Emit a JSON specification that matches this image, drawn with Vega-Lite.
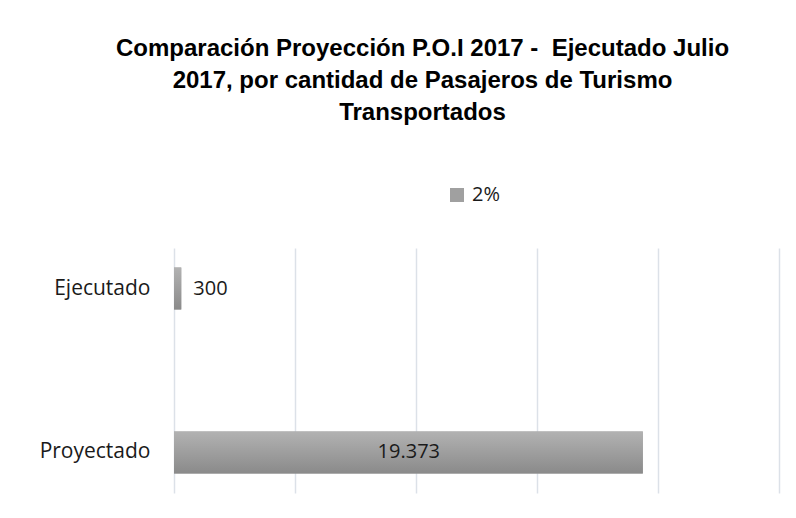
{
  "$schema": "https://vega.github.io/schema/vega-lite/v6.json",
  "autosize": "none",
  "width": 605,
  "height": 245,
  "padding": {"left": 174, "top": 248, "right": 17, "bottom": 25},
  "background": "white",
  "config": {
    "view": {"stroke": null},
    "locale": {"number": {"decimal": ",", "thousands": ".", "grouping": [3], "currency": ["", ""]}}
  },
  "title": {
    "text": ["Comparación Proyección P.O.I 2017 -\u00a0 Ejecutado Julio", "2017, por cantidad de Pasajeros de Turismo", "Transportados"],
    "font": "Liberation Sans",
    "fontWeight": "bold",
    "fontSize": 24,
    "lineHeight": 32,
    "color": "#000000",
    "anchor": "middle",
    "dx": -54,
    "offset": 60
  },
  "data": {
    "values": [
      {"categoria": "Ejecutado", "pasajeros": 300, "serie": "2%"},
      {"categoria": "Proyectado", "pasajeros": 19373, "serie": "2%"}
    ]
  },
  "encoding": {
    "y": {
      "field": "categoria",
      "type": "nominal",
      "sort": null,
      "scale": {"paddingInner": 0.744, "paddingOuter": 0.119},
      "axis": {"title": null, "domain": false, "ticks": false, "labelPadding": 24, "labelFont": "Open Sans", "labelFontSize": 21, "labelColor": "#1a1a1a"}
    }
  },
  "layer": [
    {
      "mark": {"type": "bar"},
      "encoding": {
        "x": {
          "field": "pasajeros",
          "type": "quantitative",
          "scale": {"domain": [0, 25000], "nice": false},
          "axis": {"title": null, "labels": false, "ticks": false, "domain": false, "grid": true, "gridColor": "#dce1e8", "gridWidth": 1.5, "values": [0, 5000, 10000, 15000, 20000, 25000]}
        },
        "color": {
          "field": "serie",
          "type": "nominal",
          "scale": {"range": ["#a0a0a0"]},
          "legend": {
            "title": null,
            "orient": "none",
            "legendX": 273,
            "legendY": -63,
            "symbolType": "square",
            "symbolSize": 196,
            "symbolStrokeWidth": 0,
            "labelFont": "Open Sans",
            "labelFontSize": 20,
            "labelColor": "#1a1a1a",
            "labelOffset": 5,
            "padding": 0
          }
        }
      }
    },
    {
      "mark": {"type": "bar", "color": {"gradient": "linear", "x1": 0, "y1": 0, "x2": 0, "y2": 1, "stops": [{"offset": 0, "color": "#b2b2b2"}, {"offset": 1, "color": "#8a8a8a"}]}},
      "encoding": {
        "x": {"field": "pasajeros", "type": "quantitative"}
      }
    },
    {
      "transform": [{"filter": "datum.categoria == 'Ejecutado'"}],
      "mark": {"type": "text", "align": "left", "baseline": "middle", "dx": 12, "font": "Open Sans", "fontSize": 20, "color": "#1a1a1a"},
      "encoding": {
        "x": {"field": "pasajeros", "type": "quantitative"},
        "text": {"field": "pasajeros", "type": "quantitative", "format": ",d"}
      }
    },
    {
      "transform": [{"filter": "datum.categoria == 'Proyectado'"}],
      "mark": {"type": "text", "align": "center", "baseline": "middle", "dx": -234, "font": "Open Sans", "fontSize": 20, "color": "#1a1a1a"},
      "encoding": {
        "x": {"field": "pasajeros", "type": "quantitative"},
        "text": {"field": "pasajeros", "type": "quantitative", "format": ",d"}
      }
    }
  ]
}
